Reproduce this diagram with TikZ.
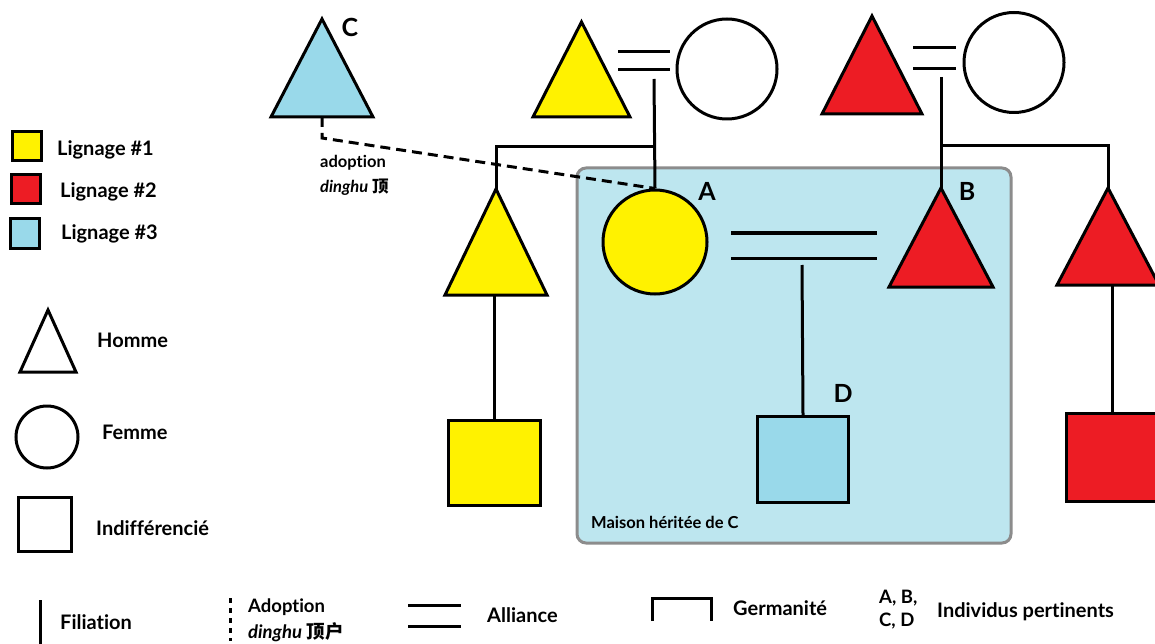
\documentclass[tikz,border=0pt]{standalone}
\usepackage{fontspec}
\setmainfont{Lato}[Ligatures=NoCommon]
\newfontfamily\cjk{Noto Sans CJK SC}
\usetikzlibrary{positioning}

\definecolor{lignageJ}{HTML}{FFF200}
\definecolor{lignageR}{HTML}{ED1C24}
\definecolor{lignageB}{HTML}{99D9EA}
\definecolor{maisonfill}{HTML}{BDE6EF}
\definecolor{maisondraw}{HTML}{8C8C8C}

% homme: name, position, width, height, colour
\newcommand{\homme}[5]{%
  \node[hommebox, minimum width=#3, minimum height=#4] (#1) at (#2) {};
  \filldraw[kin, fill=#5] (#1.north) -- (#1.south east) -- (#1.south west) -- cycle;}

\begin{document}
\begin{tikzpicture}[x=1pt, y=-1pt,
    kin/.style={draw=black, line width=3pt, line join=miter},
    hommebox/.style={rectangle, inner sep=0pt, outer sep=0pt},
    femme/.style={circle, kin, inner sep=0pt, minimum size=#1},
    carre/.style={rectangle, kin, inner sep=0pt},
    lien/.style={line width=3pt},
    adoptline/.style={lien, dash pattern=on 10pt off 6pt},
    lbl/.style={font=\fontsize{20}{23}\selectfont\bfseries, anchor=west, inner sep=0pt},
    petit/.style={font=\fontsize{16.5}{19}\selectfont\bfseries, anchor=west, inner sep=0pt},
    moyen/.style={font=\fontsize{18.5}{21}\selectfont\bfseries, anchor=west, inner sep=0pt},
    lettre/.style={font=\fontsize{25}{28}\selectfont\bfseries, inner sep=0pt}
    ]
    \useasboundingbox (0,0) rectangle (1155,644);
    \clip (0,0) rectangle (1155,644);

    % Maison
    \node[rectangle, draw=maisondraw, fill=maisonfill, line width=3pt, rounded corners=9pt,
          minimum width=434, minimum height=375] (maison) at (794,355.5) {};
    \node[petit] at (591,522) {Maison héritée de C};

    % Generation 1
    \homme{C}{322,68}{102}{98}{lignageB}
    \homme{pereJ}{581.5,69.5}{97}{95}{lignageJ}
    \node[femme=100] (mereJ) at (727,69) {};
    \homme{pereR}{872,65}{100}{98}{lignageR}
    \node[femme=100] (mereR) at (1014,62.5) {};

    % Generation 2
    \homme{oncleJ}{496,242}{102}{106}{lignageJ}
    \node[femme=104, fill=lignageJ] (A) at (655,242) {};
    \homme{B}{941,237.5}{104}{99}{lignageR}
    \homme{oncleR}{1108,236.5}{102}{97}{lignageR}

    % Generation 3
    \node[carre, fill=lignageJ, minimum width=92, minimum height=85] (cousinJ) at (494.5,463) {};
    \node[carre, fill=lignageB, minimum width=91, minimum height=86] (D) at (803,459.5) {};
    \node[carre, fill=lignageR, minimum width=92, minimum height=88] (cousinR) at (1112.5,457.5) {};

    % Alliances
    \draw[lien] (618,52) -- (670,52);
    \draw[lien] (618,70) -- (670,70);
    \draw[lien] (913,48) -- (956,48);
    \draw[lien] (913,69) -- (956,69);
    \draw[lien] (731,233) -- (877,233);
    \draw[lien] (731,258) -- (877,258);
    \coordinate (alJ) at (654,79);
    \coordinate (alR) at (941,77);
    \coordinate (alAB) at (802,265);
    \coordinate (sibJ) at (654,147);
    \coordinate (sibR) at (941,146);

    % Filiations
    \draw[lien] (alJ) -- (A.north);
    \draw[lien] (oncleJ.north) |- (sibJ);
    \draw[lien] (alR) -- (B.north);
    \draw[lien] (oncleR.north) |- (sibR);
    \draw[lien] (alAB) -- (D.north);
    \draw[lien] (cousinJ.north) -- (cousinJ.north |- oncleJ.south);
    \draw[lien] (cousinR.north) -- (cousinR.north |- oncleR.south);

    % Adoption
    \draw[adoptline] (C.south) -- ++(0,21) -- (A.north);
    \node[petit] at (320,163) {adoption};
    \node[petit] at (320,187) {\textit{dinghu} {\cjk 顶}};

    % Letters
    \node[lettre] at (350,27) {C};
    \node[lettre] at (707,191) {A};
    \node[lettre] at (967,191) {B};
    \node[lettre] at (843,393) {D};

    % Legend
    \node[carre, fill=lignageJ, minimum size=29] (legJ) at (26.5,146.5) {};
    \node[carre, fill=lignageR, minimum size=29] (legR) at (25.5,189.5) {};
    \node[carre, fill=lignageB, minimum size=29] (legB) at (24.5,233.5) {};
    \node[lbl] at (57,150) {Lignage \#1};
    \node[lbl] at (60,192) {Lignage \#2};
    \node[lbl] at (61,234) {Lignage \#3};

    \homme{legH}{48,341}{56}{62}{white}
    \node[femme=62] (legF) at (47,437) {};
    \node[carre, minimum width=53, minimum height=54] (legI) at (45,524.5) {};
    \node[lbl] at (97,340) {Homme};
    \node[lbl] at (102,432) {Femme};
    \node[lbl] at (96,528) {Indifférencié};

    \draw[lien] (40,600) -- (40,644);
    \node[lbl] at (60,622) {Filiation};
    \draw[lien, dash pattern=on 5pt off 5pt] (230,598) -- (230,641);
    \node[moyen] at (248,607) {Adoption};
    \node[moyen] at (248,632) {\textit{dinghu} {\cjk 顶户}};
    \draw[lien] (408,605) -- (461,605);
    \draw[lien] (408,626) -- (461,626);
    \node[lbl] at (487,615) {Alliance};
    \draw[lien] (652,621) -- (652,598) -- (711,598) -- (711,621);
    \node[lbl] at (733,608) {Germanité};
    \node[moyen] at (879,598) {A, B,};
    \node[moyen] at (879,621) {C, D};
    \node[lbl] at (937,612) {Individus pertinents};
\end{tikzpicture}
\end{document}
